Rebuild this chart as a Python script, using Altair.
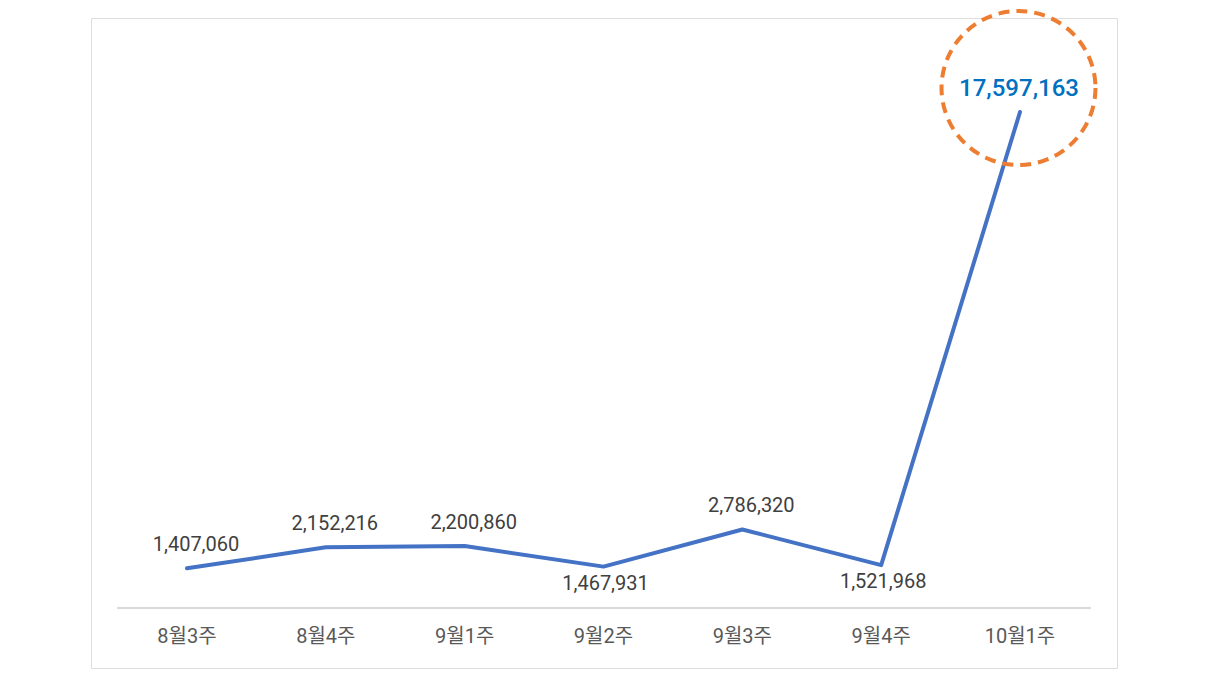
import altair as alt
import pandas as pd

weeks = ["8월3주", "8월4주", "9월1주", "9월2주", "9월3주", "9월4주", "10월1주"]
values = [1407060, 2152216, 2200860, 1467931, 2786320, 1521968, 17597163]
label_pos = ["above", "above", "above", "below", "above", "below", "peak"]

df = pd.DataFrame({"week": weeks, "value": values, "pos": label_pos})

FONT = "Roboto, Noto Sans CJK KR"

x = alt.X("week:N", sort=weeks, axis=None,
          scale=alt.Scale(type="point", domain=weeks, range=[96, 929], padding=0))
y = alt.Y("value:Q", axis=None,
          scale=alt.Scale(domain=[0, 17597163], range=[590, 94], nice=False, zero=True))

base = alt.Chart(df)

axis_line = base.mark_rule(color="#d9d9d9", strokeWidth=1.5).encode(
    x=alt.value(26), x2=alt.value(1000), y=alt.value(590)
)

line = base.mark_line(color="#4472c4", strokeWidth=4, strokeCap="round", strokeJoin="round").encode(
    x=x, y=y
)

lab_above = base.transform_filter(alt.datum.pos == "above").mark_text(
    font=FONT, fontSize=20, color="#404040", dy=-23, dx=9, baseline="middle"
).encode(x=x, y=y, text=alt.Text("value:Q", format=",d"))

lab_below = base.transform_filter(alt.datum.pos == "below").mark_text(
    font=FONT, fontSize=20, color="#404040", dy=17, dx=2, baseline="middle"
).encode(x=x, y=y, text=alt.Text("value:Q", format=",d"))

lab_peak = base.transform_filter(alt.datum.pos == "peak").mark_text(
    font=FONT, fontSize=24, fontWeight=500, color="#0070c0", dy=-23, dx=-1, baseline="middle"
).encode(x=x, y=y, text=alt.Text("value:Q", format=",d"))

circle = base.transform_filter(alt.datum.pos == "peak").mark_point(
    shape="circle", size=23700, filled=False, color="#ed7d31", strokeWidth=4,
    strokeDash=[11, 7], yOffset=-24, xOffset=-1.5, opacity=1
).encode(x=x, y=y)

cat_labels = base.mark_text(
    font=FONT, fontSize=20, color="#595959", baseline="middle"
).encode(x=x, y=alt.value(619), text="week:N")

chart = alt.layer(axis_line, line, circle, lab_above, lab_below, lab_peak, cat_labels).properties(
    width=1026, height=650,
    autosize=alt.AutoSizeParams(type="none"),
    padding={"left": 83, "top": 10, "right": 20, "bottom": 20},
).configure_view(stroke="#d9d9d9", strokeWidth=2).configure(background="white")

chart.save("out.html", embed_options={"renderer": "svg", "actions": False})
